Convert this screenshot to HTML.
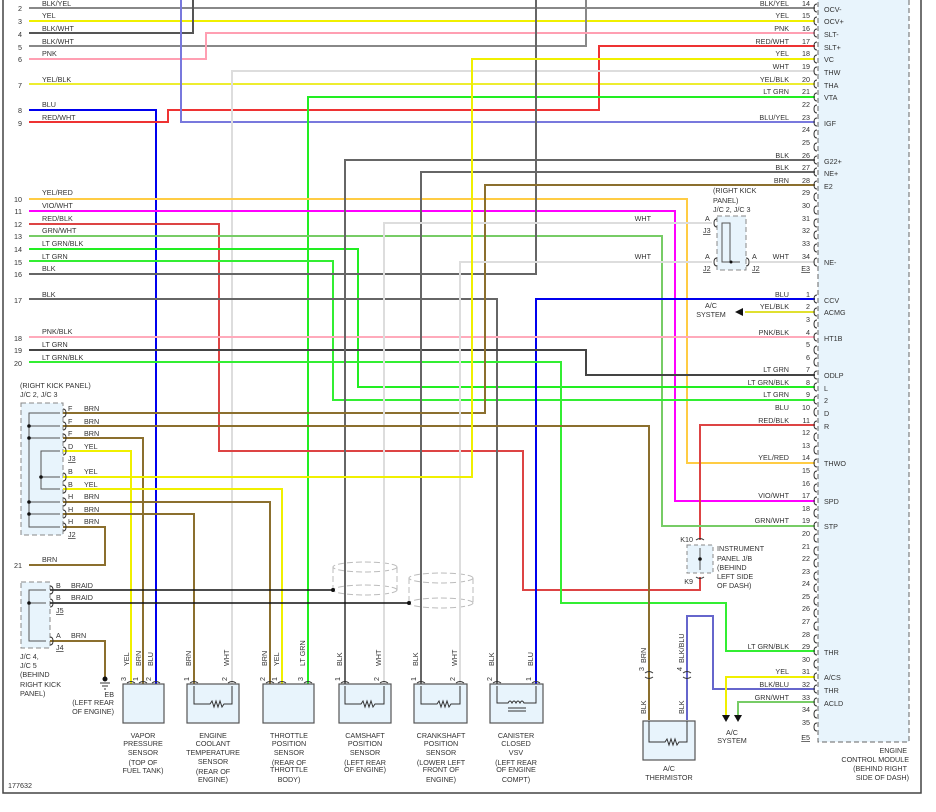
<!DOCTYPE html>
<html><head><meta charset="utf-8"><style>
html,body{margin:0;padding:0;background:#fff}
svg{display:block}
text{font-family:"Liberation Sans",sans-serif;font-size:7.2px;fill:#333}
.r{text-anchor:end}.m{text-anchor:middle}
.w{fill:none;stroke-width:2}
</style></head><body>
<svg width="936" height="812" viewBox="0 0 936 812">
<path d="M3,0V793H921V0" fill="none" stroke="#444" stroke-width="1.5"/>
<rect x="818" y="-5" width="91" height="747" fill="#e8f4fc" stroke="#666" stroke-dasharray="5,3"/>
<rect x="21" y="403" width="42" height="132" fill="#e8f4fc" stroke="#888" stroke-dasharray="5,3"/>
<rect x="21" y="582" width="29" height="66" fill="#e8f4fc" stroke="#888" stroke-dasharray="5,3"/>
<rect x="717" y="216" width="29" height="54" fill="#e8f4fc" stroke="#888" stroke-dasharray="5,3"/>
<rect x="687" y="545" width="26" height="28" fill="#e8f4fc" stroke="#888" stroke-dasharray="4,3"/>
<g fill="none" stroke="#bbb" stroke-dasharray="6,3">
<ellipse cx="365" cy="567" rx="32" ry="5"/><ellipse cx="365" cy="590" rx="32" ry="5"/><path d="M333,567V590M397,567V590"/>
<ellipse cx="441" cy="578" rx="32" ry="5"/><ellipse cx="441" cy="603" rx="32" ry="5"/><path d="M409,578V603M473,578V603"/>
</g>
<g class="w">
<path d="M29,8H815" stroke="#888"/>
<path d="M29,21H815" stroke="#f0f000"/>
<path d="M29,33H193V0" stroke="#555"/>
<path d="M29,46H586V0" stroke="#888"/>
<path d="M29,59H206V33H815" stroke="#ff9fb2"/>
<path d="M29,84H815" stroke="#eded30"/>
<path d="M29,110H156V684" stroke="#0000ee"/>
<path d="M29,122H168V110H599V46H815" stroke="#ee3333"/>
<path d="M181,0V122H815" stroke="#7878dd"/>
<path d="M232,684V71H815" stroke="#ddd"/>
<path d="M308,684V97H815" stroke="#22ee22"/>
<path d="M29,199H687V463H815" stroke="#ffcc44"/>
<path d="M29,211H675V501H815" stroke="#ff00ff"/>
<path d="M29,224H219V451H523V590H700V577M700,540V425H815" stroke="#dd4444"/>
<path d="M29,236H662V526H815" stroke="#77cc66"/>
<path d="M29,249H358V387H815" stroke="#22ee22"/>
<path d="M29,261H333V400H815" stroke="#33ee33"/>
<path d="M29,274H536V0" stroke="#666"/>
<path d="M29,299H497V684" stroke="#666"/>
<path d="M536,684V299H815" stroke="#0000ee"/>
<path d="M29,337H815" stroke="#ffaabb"/>
<path d="M29,350H586V375H815" stroke="#444"/>
<path d="M29,362H561V603H726V651H815" stroke="#33ee33"/>
<path d="M345,684V160H815" stroke="#666"/>
<path d="M421,684V172H815" stroke="#666"/>
<path d="M815,185H485V413H63" stroke="#8b6f2e"/>
<path d="M384,684V223H712" stroke="#ddd"/>
<path d="M460,684V262H712" stroke="#ddd"/>
<path d="M750,262H815" stroke="#ddd"/>
<path d="M63,426H649V720" stroke="#8b6f2e"/>
<path d="M63,438H143V684" stroke="#8b6f2e"/>
<path d="M63,451H131V684" stroke="#f0f000"/>
<path d="M63,477H472V59H815" stroke="#f0f000"/>
<path d="M63,489H282V684" stroke="#f0f000"/>
<path d="M63,502H270V684" stroke="#8b6f2e"/>
<path d="M63,514H194V684" stroke="#8b6f2e"/>
<path d="M63,527H105V565H29" stroke="#8b6f2e"/>
<path d="M50,641H105V678" stroke="#8b6f2e"/>
<path d="M687,720V616H713V689H815" stroke="#6666cc"/>
<path d="M815,677H726V715" stroke="#f0f000"/>
<path d="M815,702H738V715" stroke="#77cc66"/>
<path d="M745,312H815" stroke="#e0e030"/>
</g>
<g stroke="#111" stroke-width="1.6" fill="none"><path d="M50,590H333M50,603H409"/></g>
<circle cx="333" cy="590" r="2" fill="#111"/><circle cx="409" cy="603" r="2" fill="#111"/>
<g stroke="#555" fill="none" stroke-width="1">
<path d="M60,413H29V527H60M29,426H60M29,438H60M29,502H60M29,514H60"/>
<path d="M60,451H41V489H60M41,477H60"/>
<path d="M46,590H29V641H46M29,603H46"/>
<path d="M740,262H722V223H730V262"/>
<path d="M700,548V570"/>
</g>
<g fill="#111"><circle cx="29" cy="426" r="1.8"/><circle cx="29" cy="438" r="1.8"/><circle cx="29" cy="502" r="1.8"/><circle cx="29" cy="514" r="1.8"/><circle cx="41" cy="477" r="1.8"/><circle cx="29" cy="603" r="1.8"/><circle cx="731" cy="262" r="1.5"/><circle cx="700" cy="559" r="1.8"/></g>
<polygon points="735,312 743,308 743,316" fill="#111"/>
<polygon points="722,715 730,715 726,722" fill="#111"/><polygon points="734,715 742,715 738,722" fill="#111"/>
<circle cx="105" cy="679" r="2.5" fill="#111"/><path d="M100,683H110M102,686H108M104,689H106" stroke="#333"/>
<g fill="none" stroke="#333" stroke-width="1">
<path d="M817,4q-3,0-3,4q0,4 3,4M817,17q-3,0-3,4q0,4 3,4M817,29q-3,0-3,4q0,4 3,4M817,42q-3,0-3,4q0,4 3,4M817,55q-3,0-3,4q0,4 3,4M817,67q-3,0-3,4q0,4 3,4M817,80q-3,0-3,4q0,4 3,4M817,93q-3,0-3,4q0,4 3,4M817,105q-3,0-3,4q0,4 3,4M817,118q-3,0-3,4q0,4 3,4M817,130q-3,0-3,4q0,4 3,4M817,143q-3,0-3,4q0,4 3,4M817,156q-3,0-3,4q0,4 3,4M817,168q-3,0-3,4q0,4 3,4M817,181q-3,0-3,4q0,4 3,4M817,193q-3,0-3,4q0,4 3,4M817,206q-3,0-3,4q0,4 3,4M817,219q-3,0-3,4q0,4 3,4M817,231q-3,0-3,4q0,4 3,4M817,244q-3,0-3,4q0,4 3,4M817,258q-3,0-3,4q0,4 3,4"/>
<path d="M817,295q-3,0-3,4q0,4 3,4M817,308q-3,0-3,4q0,4 3,4M817,320q-3,0-3,4q0,4 3,4M817,333q-3,0-3,4q0,4 3,4M817,346q-3,0-3,4q0,4 3,4M817,358q-3,0-3,4q0,4 3,4M817,371q-3,0-3,4q0,4 3,4M817,383q-3,0-3,4q0,4 3,4M817,396q-3,0-3,4q0,4 3,4M817,408q-3,0-3,4q0,4 3,4M817,421q-3,0-3,4q0,4 3,4M817,433q-3,0-3,4q0,4 3,4M817,446q-3,0-3,4q0,4 3,4M817,459q-3,0-3,4q0,4 3,4M817,471q-3,0-3,4q0,4 3,4M817,484q-3,0-3,4q0,4 3,4M817,497q-3,0-3,4q0,4 3,4M817,509q-3,0-3,4q0,4 3,4M817,522q-3,0-3,4q0,4 3,4M817,534q-3,0-3,4q0,4 3,4M817,547q-3,0-3,4q0,4 3,4M817,559q-3,0-3,4q0,4 3,4M817,572q-3,0-3,4q0,4 3,4M817,584q-3,0-3,4q0,4 3,4M817,597q-3,0-3,4q0,4 3,4M817,609q-3,0-3,4q0,4 3,4M817,622q-3,0-3,4q0,4 3,4M817,635q-3,0-3,4q0,4 3,4M817,647q-3,0-3,4q0,4 3,4M817,660q-3,0-3,4q0,4 3,4M817,673q-3,0-3,4q0,4 3,4M817,685q-3,0-3,4q0,4 3,4M817,698q-3,0-3,4q0,4 3,4M817,710q-3,0-3,4q0,4 3,4M817,723q-3,0-3,4q0,4 3,4"/>
<path d="M63,409q3,0 3,4q0,4-3,4M63,422q3,0 3,4q0,4-3,4M63,434q3,0 3,4q0,4-3,4M63,447q3,0 3,4q0,4-3,4M63,473q3,0 3,4q0,4-3,4M63,485q3,0 3,4q0,4-3,4M63,498q3,0 3,4q0,4-3,4M63,510q3,0 3,4q0,4-3,4M63,523q3,0 3,4q0,4-3,4M50,586q3,0 3,4q0,4-3,4M50,599q3,0 3,4q0,4-3,4M50,637q3,0 3,4q0,4-3,4"/>
<path d="M717,219q-3,0-3,4q0,4 3,4M717,258q-3,0-3,4q0,4 3,4M746,258q3,0 3,4q0,4-3,4M696,540q4,-3 8,0M696,577q4,3 8,0"/>
<path d="M127,683q4,-3 8,0M139,683q4,-3 8,0M152,683q4,-3 8,0M190,683q4,-3 8,0M228,683q4,-3 8,0M266,683q4,-3 8,0M278,683q4,-3 8,0M304,683q4,-3 8,0M341,683q4,-3 8,0M380,683q4,-3 8,0M417,683q4,-3 8,0M456,683q4,-3 8,0M493,683q4,-3 8,0M532,683q4,-3 8,0M645,673q4,-3 8,0M645,677q4,3 8,0M683,673q4,-3 8,0M683,677q4,3 8,0"/>
</g>
<g fill="#e8f4fc" stroke="#555" stroke-width="1.2">
<rect x="123" y="684" width="41" height="39"/><rect x="187" y="684" width="52" height="39"/><rect x="263" y="684" width="51" height="39"/>
<rect x="339" y="684" width="52" height="39"/><rect x="414" y="684" width="53" height="39"/><rect x="490" y="684" width="53" height="39"/>
<rect x="643" y="721" width="52" height="39"/>
</g>
<g fill="none" stroke="#333" stroke-width="1">
<path d="M194,686V704H210l2,-3 2,6 2,-6 2,6 2,-6 2,6 2,-3H232V686"/>
<path d="M345,686V704H361l2,-3 2,6 2,-6 2,6 2,-6 2,6 2,-3H384V686"/>
<path d="M421,686V704H437l2,-3 2,6 2,-6 2,6 2,-6 2,6 2,-3H460V686"/>
<path d="M497,686V703H508q2,-4 4,0q2,-4 4,0q2,-4 4,0q2,-4 4,0H536V686M508,708H526M508,711H526"/>
<path d="M649,721V742H665l2,-3 2,6 2,-6 2,6 2,-6 2,6 2,-3H687V721"/>
</g>
<text x="22" y="11" class="r">2</text><text x="42" y="6">BLK/YEL</text>
<text x="22" y="24" class="r">3</text><text x="42" y="18">YEL</text>
<text x="22" y="37" class="r">4</text><text x="42" y="31">BLK/WHT</text>
<text x="22" y="50" class="r">5</text><text x="42" y="44">BLK/WHT</text>
<text x="22" y="62" class="r">6</text><text x="42" y="56">PNK</text>
<text x="22" y="88" class="r">7</text><text x="42" y="82">YEL/BLK</text>
<text x="22" y="113" class="r">8</text><text x="42" y="107">BLU</text>
<text x="22" y="126" class="r">9</text><text x="42" y="120">RED/WHT</text>
<text x="22" y="202" class="r">10</text><text x="42" y="195">YEL/RED</text>
<text x="22" y="214" class="r">11</text><text x="42" y="208">VIO/WHT</text>
<text x="22" y="227" class="r">12</text><text x="42" y="221">RED/BLK</text>
<text x="22" y="239" class="r">13</text><text x="42" y="233">GRN/WHT</text>
<text x="22" y="252" class="r">14</text><text x="42" y="246">LT GRN/BLK</text>
<text x="22" y="265" class="r">15</text><text x="42" y="259">LT GRN</text>
<text x="22" y="277" class="r">16</text><text x="42" y="271">BLK</text>
<text x="22" y="303" class="r">17</text><text x="42" y="297">BLK</text>
<text x="22" y="341" class="r">18</text><text x="42" y="334">PNK/BLK</text>
<text x="22" y="353" class="r">19</text><text x="42" y="347">LT GRN</text>
<text x="22" y="366" class="r">20</text><text x="42" y="360">LT GRN/BLK</text>
<text x="20" y="388">(RIGHT KICK PANEL)</text><text x="20" y="397">J/C 2, J/C 3</text>
<text x="68" y="411">F</text><text x="84" y="411">BRN</text>
<text x="68" y="424">F</text><text x="84" y="424">BRN</text>
<text x="68" y="436">F</text><text x="84" y="436">BRN</text>
<text x="68" y="449">D</text><text x="84" y="449">YEL</text>
<text x="68" y="461" text-decoration="underline">J3</text>
<text x="68" y="474">B</text><text x="84" y="474">YEL</text>
<text x="68" y="487">B</text><text x="84" y="487">YEL</text>
<text x="68" y="499">H</text><text x="84" y="499">BRN</text>
<text x="68" y="512">H</text><text x="84" y="512">BRN</text>
<text x="68" y="524">H</text><text x="84" y="524">BRN</text>
<text x="68" y="537" text-decoration="underline">J2</text>
<text x="22" y="568" class="r">21</text><text x="42" y="562">BRN</text>
<text x="56" y="588">B</text><text x="71" y="588">BRAID</text>
<text x="56" y="600">B</text><text x="71" y="600">BRAID</text>
<text x="56" y="613" text-decoration="underline">J5</text>
<text x="56" y="638">A</text><text x="71" y="638">BRN</text>
<text x="56" y="650" text-decoration="underline">J4</text>
<text x="20" y="659">J/C 4,</text><text x="20" y="668">J/C 5</text><text x="20" y="677">(BEHIND</text><text x="20" y="687">RIGHT KICK</text><text x="20" y="696">PANEL)</text>
<text x="114" y="697" class="r">EB</text><text x="114" y="705" class="r">(LEFT REAR</text><text x="114" y="714" class="r">OF ENGINE)</text>
<text x="8" y="788">177632</text>
<g>
<text transform="translate(129,666) rotate(-90)">YEL</text><text transform="translate(141,666) rotate(-90)">BRN</text><text transform="translate(153,666) rotate(-90)">BLU</text>
<text transform="translate(191,666) rotate(-90)">BRN</text><text transform="translate(229,666) rotate(-90)">WHT</text>
<text transform="translate(267,666) rotate(-90)">BRN</text><text transform="translate(279,666) rotate(-90)">YEL</text><text transform="translate(305,666) rotate(-90)">LT GRN</text>
<text transform="translate(342,666) rotate(-90)">BLK</text><text transform="translate(381,666) rotate(-90)">WHT</text>
<text transform="translate(418,666) rotate(-90)">BLK</text><text transform="translate(457,666) rotate(-90)">WHT</text>
<text transform="translate(494,666) rotate(-90)">BLK</text><text transform="translate(533,666) rotate(-90)">BLU</text>
<text transform="translate(646,663) rotate(-90)">BRN</text><text transform="translate(684,663) rotate(-90)">BLK/BLU</text>
<text transform="translate(646,714) rotate(-90)">BLK</text><text transform="translate(684,714) rotate(-90)">BLK</text>
<text transform="translate(126,681) rotate(-90)">3</text><text transform="translate(138,681) rotate(-90)">1</text><text transform="translate(151,681) rotate(-90)">2</text>
<text transform="translate(189,681) rotate(-90)">1</text><text transform="translate(227,681) rotate(-90)">2</text>
<text transform="translate(265,681) rotate(-90)">2</text><text transform="translate(277,681) rotate(-90)">1</text><text transform="translate(303,681) rotate(-90)">3</text>
<text transform="translate(340,681) rotate(-90)">1</text><text transform="translate(379,681) rotate(-90)">2</text>
<text transform="translate(416,681) rotate(-90)">1</text><text transform="translate(455,681) rotate(-90)">2</text>
<text transform="translate(492,681) rotate(-90)">2</text><text transform="translate(531,681) rotate(-90)">1</text>
<text transform="translate(644,671) rotate(-90)">3</text><text transform="translate(682,671) rotate(-90)">4</text>
</g>
<g class="m">
<text x="143" y="738" class="m">VAPOR</text><text x="143" y="746" class="m">PRESSURE</text><text x="143" y="755" class="m">SENSOR</text><text x="143" y="765" class="m">(TOP OF</text><text x="143" y="773" class="m">FUEL TANK)</text>
<text x="213" y="738" class="m">ENGINE</text><text x="213" y="746" class="m">COOLANT</text><text x="213" y="755" class="m">TEMPERATURE</text><text x="213" y="764" class="m">SENSOR</text><text x="213" y="774" class="m">(REAR OF</text><text x="213" y="782" class="m">ENGINE)</text>
<text x="289" y="738" class="m">THROTTLE</text><text x="289" y="746" class="m">POSITION</text><text x="289" y="755" class="m">SENSOR</text><text x="289" y="765" class="m">(REAR OF</text><text x="289" y="772" class="m">THROTTLE</text><text x="289" y="782" class="m">BODY)</text>
<text x="365" y="738" class="m">CAMSHAFT</text><text x="365" y="746" class="m">POSITION</text><text x="365" y="755" class="m">SENSOR</text><text x="365" y="765" class="m">(LEFT REAR</text><text x="365" y="772" class="m">OF ENGINE)</text>
<text x="441" y="738" class="m">CRANKSHAFT</text><text x="441" y="746" class="m">POSITION</text><text x="441" y="755" class="m">SENSOR</text><text x="441" y="765" class="m">(LOWER LEFT</text><text x="441" y="772" class="m">FRONT OF</text><text x="441" y="782" class="m">ENGINE)</text>
<text x="516" y="738" class="m">CANISTER</text><text x="516" y="746" class="m">CLOSED</text><text x="516" y="755" class="m">VSV</text><text x="516" y="765" class="m">(LEFT REAR</text><text x="516" y="772" class="m">OF ENGINE</text><text x="516" y="782" class="m">COMPT)</text>
<text x="669" y="771" class="m">A/C</text><text x="669" y="780" class="m">THERMISTOR</text>
<text x="732" y="735" class="m">A/C</text><text x="732" y="743" class="m">SYSTEM</text>
<text x="711" y="308" class="m">A/C</text><text x="711" y="317" class="m">SYSTEM</text>
</g>
<text x="713" y="193">(RIGHT KICK</text><text x="713" y="203">PANEL)</text><text x="713" y="212">J/C 2, J/C 3</text>
<text x="705" y="221">A</text><text x="703" y="233" text-decoration="underline">J3</text>
<text x="705" y="259">A</text><text x="703" y="271" text-decoration="underline">J2</text>
<text x="752" y="259">A</text><text x="752" y="271" text-decoration="underline">J2</text>
<text x="651" y="221" class="r">WHT</text><text x="651" y="259" class="r">WHT</text><text x="789" y="259" class="r">WHT</text>
<text x="693" y="542" class="r">K10</text><text x="693" y="584" class="r">K9</text>
<text x="717" y="551">INSTRUMENT</text><text x="717" y="561">PANEL J/B</text><text x="717" y="570">(BEHIND</text><text x="717" y="579">LEFT SIDE</text><text x="717" y="588">OF DASH)</text>
<text x="907" y="753" class="r">ENGINE</text><text x="909" y="762" class="r">CONTROL MODULE</text><text x="907" y="771" class="r">(BEHIND RIGHT</text><text x="909" y="780" class="r">SIDE OF DASH)</text>
<g>
<text x="810" y="6" class="r">14</text><text x="789" y="6" class="r">BLK/YEL</text><text x="824" y="12">OCV-</text>
<text x="810" y="18" class="r">15</text><text x="789" y="18" class="r">YEL</text><text x="824" y="24">OCV+</text>
<text x="810" y="31" class="r">16</text><text x="789" y="31" class="r">PNK</text><text x="824" y="37">SLT-</text>
<text x="810" y="44" class="r">17</text><text x="789" y="44" class="r">RED/WHT</text><text x="824" y="50">SLT+</text>
<text x="810" y="56" class="r">18</text><text x="789" y="56" class="r">YEL</text><text x="824" y="62">VC</text>
<text x="810" y="69" class="r">19</text><text x="789" y="69" class="r">WHT</text><text x="824" y="75">THW</text>
<text x="810" y="82" class="r">20</text><text x="789" y="82" class="r">YEL/BLK</text><text x="824" y="88">THA</text>
<text x="810" y="94" class="r">21</text><text x="789" y="94" class="r">LT GRN</text><text x="824" y="100">VTA</text>
<text x="810" y="107" class="r">22</text>
<text x="810" y="120" class="r">23</text><text x="789" y="120" class="r">BLU/YEL</text><text x="824" y="126">IGF</text>
<text x="810" y="132" class="r">24</text><text x="810" y="145" class="r">25</text>
<text x="810" y="158" class="r">26</text><text x="789" y="158" class="r">BLK</text><text x="824" y="164">G22+</text>
<text x="810" y="170" class="r">27</text><text x="789" y="170" class="r">BLK</text><text x="824" y="176">NE+</text>
<text x="810" y="183" class="r">28</text><text x="789" y="183" class="r">BRN</text><text x="824" y="189">E2</text>
<text x="810" y="195" class="r">29</text><text x="810" y="208" class="r">30</text><text x="810" y="221" class="r">31</text>
<text x="810" y="233" class="r">32</text><text x="810" y="246" class="r">33</text>
<text x="810" y="259" class="r">34</text><text x="824" y="265">NE-</text><text x="810" y="271" class="r" text-decoration="underline">E3</text>
<text x="810" y="297" class="r">1</text><text x="789" y="297" class="r">BLU</text><text x="824" y="303">CCV</text>
<text x="810" y="309" class="r">2</text><text x="789" y="309" class="r">YEL/BLK</text><text x="824" y="315">ACMG</text>
<text x="810" y="322" class="r">3</text>
<text x="810" y="335" class="r">4</text><text x="789" y="335" class="r">PNK/BLK</text><text x="824" y="341">HT1B</text>
<text x="810" y="347" class="r">5</text><text x="810" y="360" class="r">6</text>
<text x="810" y="372" class="r">7</text><text x="789" y="372" class="r">LT GRN</text><text x="824" y="378">ODLP</text>
<text x="810" y="385" class="r">8</text><text x="789" y="385" class="r">LT GRN/BLK</text><text x="824" y="391">L</text>
<text x="810" y="397" class="r">9</text><text x="789" y="397" class="r">LT GRN</text><text x="824" y="403">2</text>
<text x="810" y="410" class="r">10</text><text x="789" y="410" class="r">BLU</text><text x="824" y="416">D</text>
<text x="810" y="423" class="r">11</text><text x="789" y="423" class="r">RED/BLK</text><text x="824" y="429">R</text>
<text x="810" y="435" class="r">12</text><text x="810" y="448" class="r">13</text>
<text x="810" y="460" class="r">14</text><text x="789" y="460" class="r">YEL/RED</text><text x="824" y="466">THWO</text>
<text x="810" y="473" class="r">15</text><text x="810" y="486" class="r">16</text>
<text x="810" y="498" class="r">17</text><text x="789" y="498" class="r">VIO/WHT</text><text x="824" y="504">SPD</text>
<text x="810" y="511" class="r">18</text>
<text x="810" y="523" class="r">19</text><text x="789" y="523" class="r">GRN/WHT</text><text x="824" y="529">STP</text>
<text x="810" y="536" class="r">20</text><text x="810" y="549" class="r">21</text><text x="810" y="561" class="r">22</text><text x="810" y="574" class="r">23</text><text x="810" y="586" class="r">24</text><text x="810" y="599" class="r">25</text><text x="810" y="611" class="r">26</text><text x="810" y="624" class="r">27</text><text x="810" y="637" class="r">28</text>
<text x="810" y="649" class="r">29</text><text x="789" y="649" class="r">LT GRN/BLK</text><text x="824" y="655">THR</text>
<text x="810" y="662" class="r">30</text>
<text x="810" y="674" class="r">31</text><text x="789" y="674" class="r">YEL</text><text x="824" y="680">A/CS</text>
<text x="810" y="687" class="r">32</text><text x="789" y="687" class="r">BLK/BLU</text><text x="824" y="693">THR</text>
<text x="810" y="700" class="r">33</text><text x="789" y="700" class="r">GRN/WHT</text><text x="824" y="706">ACLD</text>
<text x="810" y="712" class="r">34</text><text x="810" y="725" class="r">35</text>
<text x="810" y="740" class="r" text-decoration="underline">E5</text>
</g>
</svg>
</body></html>
